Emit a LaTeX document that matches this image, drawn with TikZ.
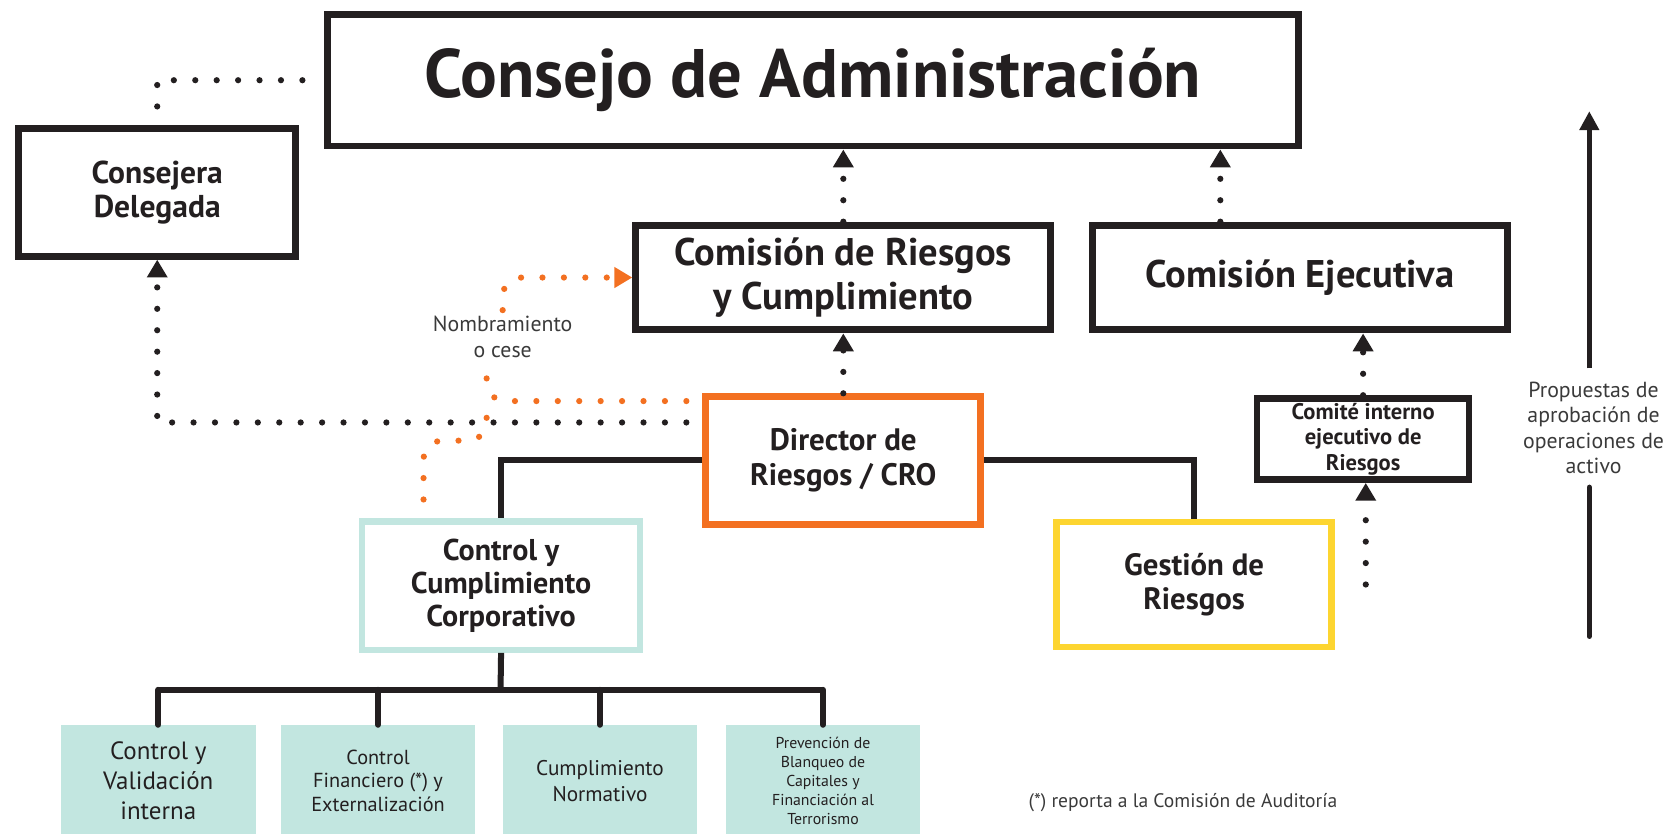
\documentclass[tikz,border=0pt]{standalone}
\usepackage{fontspec}
\setmainfont{PT Sans}
\usetikzlibrary{arrows.meta}

\definecolor{tinta}{HTML}{231F20}
\definecolor{naranja}{HTML}{F37021}
\definecolor{turquesa}{HTML}{C2E6E0}
\definecolor{amarillo}{HTML}{FDD530}
\definecolor{gristxt}{HTML}{3A3A3A}

\tikzset{
  caja/.style={draw=tinta, line width=3.7pt, align=center, text=tinta, inner sep=0pt},
  hoja/.style={fill=turquesa, align=center, text=tinta, inner sep=0pt,
    minimum width=36.4mm, minimum height=20.8mm},
  puntos/.style={draw=tinta, line width=3.3pt, line cap=round, dash pattern=on 0pt off 11.4pt},
  puntosnar/.style={puntos, draw=naranja, rounded corners=10pt},
  punta/.style={-{Triangle[length=9.5pt,width=10.5pt]}},
  rama/.style={draw=tinta, line width=3.2pt},
  nota/.style={align=center, text=gristxt, inner sep=3pt},
}

\begin{document}
\begin{tikzpicture}[x=0.2mm, y=-0.2mm]
  \useasboundingbox (0,0) rectangle (1568,779);

  % organos de gobierno
  \node[caja, minimum width=181.6mm, minimum height=24.6mm,
    font=\fontsize{36.5}{40}\selectfont\bfseries] (consejo) at (760,75) {Consejo de Administración};
  \node[caja, minimum width=51.8mm, minimum height=23.8mm,
    font=\fontsize{16.8}{18.5}\selectfont\bfseries] (delegada) at (147,180) {Consejera\\Delegada};
  \node[caja, minimum width=77.6mm, minimum height=19.6mm,
    font=\fontsize{20.5}{23}\selectfont\bfseries] (comrie) at (788.5,259.5) {Comisión de Riesgos\\y Cumplimiento};
  \node[caja, minimum width=77.6mm, minimum height=19.6mm,
    font=\fontsize{20.5}{23}\selectfont\bfseries] (comeje) at (1215.5,259.5) {Comisión Ejecutiva};
  \node[caja, draw=naranja, minimum width=51.4mm, minimum height=23.8mm,
    font=\fontsize{16.5}{18.5}\selectfont\bfseries] (cro) at (788.5,430.5) {Director de\\Riesgos / CRO};
  \node[caja, line width=3.4pt, minimum width=39.6mm, minimum height=15.2mm,
    font=\fontsize{12}{13.6}\selectfont\bfseries] (comite) at (1274.5,410.5) {Comité interno\\ejecutivo de\\Riesgos};
  \node[caja, draw=turquesa, line width=3.4pt, minimum width=52mm, minimum height=24mm,
    font=\fontsize{16}{17.5}\selectfont\bfseries] (ctrl) at (468.5,547.5) {Control y\\Cumplimiento\\Corporativo};
  \node[caja, draw=amarillo, line width=3.4pt, minimum width=51.4mm, minimum height=23.4mm,
    font=\fontsize{16.4}{18}\selectfont\bfseries] (gestion) at (1116.5,546.5) {Gestión de\\Riesgos};

  % areas de control
  \node[hoja, font=\fontsize{13.3}{16}\selectfont] (h1) at (148,730) {Control y\\Validación\\interna};
  \node[hoja, font=\fontsize{10.8}{12.5}\selectfont] (h2) at (353.5,730) {Control\\Financiero (*) y\\Externalización};
  \node[hoja, font=\fontsize{11.3}{13.7}\selectfont] (h3) at (561,730) {Cumplimiento\\Normativo};
  \node[hoja, font=\fontsize{8.4}{10.2}\selectfont] (h4) at (769.5,730) {Prevención de\\Blanqueo de\\Capitales y\\Financiación al\\Terrorismo};

  % textos sueltos
  \node[nota, font=\fontsize{11.6}{13.7}\selectfont] (nomb) at (470,315) {Nombramiento\\o cese};
  \node[nota, font=\fontsize{11.6}{13.5}\selectfont, inner sep=7pt] (prop) at (1490,400) {Propuestas de\\aprobación de\\operaciones de\\activo};
  \node[nota, font=\fontsize{10.4}{12}\selectfont] (pie) at (1106,750) {(*) reporta a la Comisión de Auditoría};

  % lineas jerarquicas
  \draw[rama] (cro.west) -| (ctrl.north);
  \draw[rama] (cro.east) -| (gestion.north);
  \coordinate (barra) at (468,645);
  \draw[rama] (ctrl.south) -- (barra);
  \draw[rama] (barra -| h1.north) -- (barra -| h4.north);
  \foreach \h in {h1,h2,h3,h4}
    \draw[rama, line cap=round] (barra -| \h.north) -- (\h.north);

  % dependencias punteadas
  \coordinate (c0) at ([xshift=-4mm]consejo.west);
  \draw[puntos] (c0) -| (delegada.north);
  \coordinate (c1) at ([xshift=-3mm,yshift=7.1mm]cro.west);
  \draw[puntos, punta] (c1) -| (delegada.south);
  \draw[puntos, punta] (cro.north) -- (comrie.south);
  \draw[puntos, punta] (comrie.north) -- (comrie.north |- consejo.south);
  \coordinate (ej) at ([xshift=-14.9mm]comeje.north);
  \draw[puntos, punta] (ej) -- (ej |- consejo.south);
  \draw[puntos, punta] (comite.north) -- (comite.north |- comeje.south);
  \coordinate (g1) at ([xshift=5.8mm]gestion.east);
  \draw[puntos, punta] (g1) -- (g1 |- comite.south);

  % nombramiento o cese
  \coordinate (oc) at ([xshift=-14.5mm,yshift=3.5mm]ctrl.north);
  \coordinate (oj) at (455,412);
  \coordinate (ob) at ([xshift=-3mm,yshift=11.1mm]cro.west);
  \draw[puntosnar] (oc) |- (oj) -- (455,385);
  \draw[puntosnar] (ob) -| (oj |- nomb.south);
  \draw[puntosnar, punta] (nomb.north) |- (comrie.west);

  % propuestas
  \coordinate (pb) at (1486,595);
  \coordinate (pt) at (1486,104);
  \draw[rama, line width=2.8pt, line cap=round] (pb) -- (pb |- prop.south);
  \draw[rama, line width=2.8pt, -{Triangle[length=10pt,width=10pt]}] (pt |- prop.north) -- (pt);
\end{tikzpicture}
\end{document}
